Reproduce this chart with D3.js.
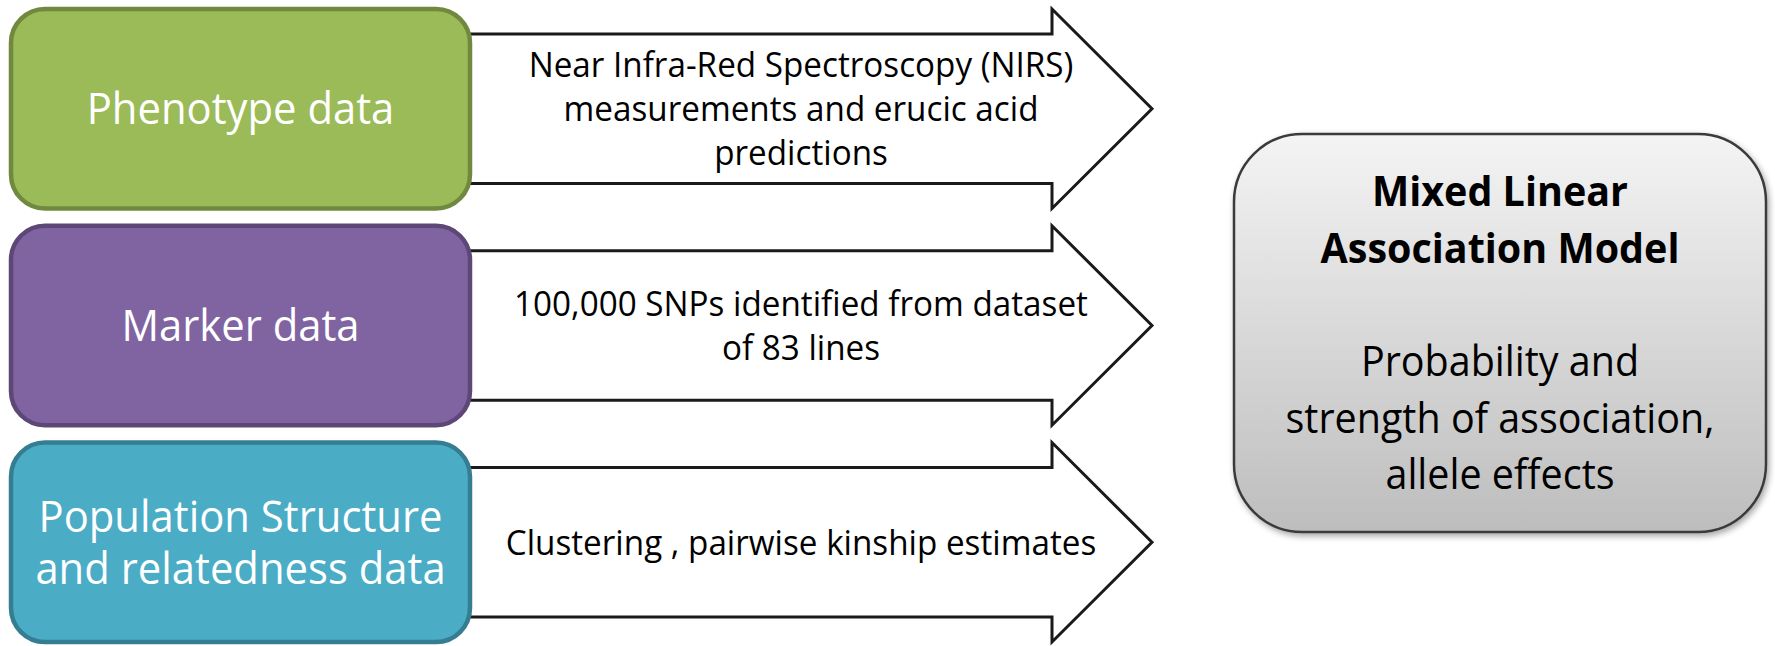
<!DOCTYPE html>
<html>
<head>
<meta charset="utf-8">
<script src="https://cdnjs.cloudflare.com/ajax/libs/d3/7.8.5/d3.min.js"></script>
<style>
  html, body { margin: 0; padding: 0; background: #ffffff; }
  svg { display: block; }
</style>
</head>
<body>
<div id="diagram"></div>
<script>
// data inputs on the left
var sourceLabels = [
  ["Phenotype data"],
  ["Marker data"],
  ["Population Structure", "and relatedness data"]
];
var sourceFill = ["#9bbb59", "#8064a2", "#4bacc6"];
var sourceStroke = ["#71893f", "#5c4776", "#357d91"];

// what goes through each arrow
var arrowTexts = [
  ["Near Infra-Red Spectroscopy (NIRS)", "measurements and erucic acid", "predictions"],
  ["100,000 SNPs identified from dataset", "of 83 lines"],
  ["Clustering , pairwise kinship estimates"]
];

// the model box on the right
var modelTitle = ["Mixed Linear", "Association Model"];
var modelBody = ["Probability and", "strength of association,", "allele effects"];

var width = 1775, height = 646;
var fontFam = "'Open Sans', 'Noto Sans', sans-serif";

var svg = d3.select("#diagram")
  .append("svg")
  .attr("width", width)
  .attr("height", height);

var defs = svg.append("defs");

var grad = defs.append("linearGradient")
  .attr("id", "greyGrad")
  .attr("x1", 0).attr("y1", 0).attr("x2", 0).attr("y2", 1);
grad.append("stop").attr("offset", "0%").attr("stop-color", "#f4f4f4");
grad.append("stop").attr("offset", "100%").attr("stop-color", "#bdbdbd");

var shadow = defs.append("filter")
  .attr("id", "shadow")
  .attr("x", "-10%").attr("y", "-10%")
  .attr("width", "130%").attr("height", "130%");
shadow.append("feDropShadow")
  .attr("dx", 2).attr("dy", 3)
  .attr("stdDeviation", 3)
  .attr("flood-color", "#000")
  .attr("flood-opacity", 0.35);

// rows for the three inputs
var yRow = d3.scaleBand()
  .domain(d3.range(sourceLabels.length))
  .range([9, 642])
  .paddingInner(0.08);

var boxLeft = 11, boxRight = 470;
var shaftStart = 440, headBase = 1052, tip = 1152;
var shaftInset = 25;
var textMidX = 801;

// stacked, centred lines of text; Open Sans is wider than the original font so squeeze it a bit
function textBlock(sel, lines, cx, cy, step, size, squeeze, colour, weightFn) {
  var g = sel.append("g")
    .attr("transform", "translate(" + cx + "," + cy + ") scale(" + squeeze + ",1)");
  g.selectAll("text")
    .data(lines)
    .enter()
    .append("text")
    .attr("x", 0)
    .attr("y", function (d, j) { return (j - (lines.length - 1) / 2) * step; })
    .attr("dy", "0.35em")
    .attr("text-anchor", "middle")
    .style("font-family", fontFam)
    .style("font-size", size + "px")
    .style("font-weight", function (d, j) { return weightFn ? weightFn(d, j) : "normal"; })
    .style("fill", colour)
    .text(function (d) { return typeof d === "string" ? d : d.t; });
}

// arrows first, boxes are laid over their tails
var arrows = svg.selectAll(".arrow")
  .data(arrowTexts)
  .enter()
  .append("g")
  .attr("class", "arrow");

arrows.append("path")
  .attr("d", function (d, i) {
    var y0 = yRow(i), h = yRow.bandwidth();
    return d3.line()([
      [shaftStart, y0 + shaftInset],
      [headBase, y0 + shaftInset],
      [headBase, y0],
      [tip, y0 + h / 2],
      [headBase, y0 + h],
      [headBase, y0 + h - shaftInset],
      [shaftStart, y0 + h - shaftInset]
    ]) + "Z";
  })
  .style("fill", "#ffffff")
  .style("stroke", "#1a1a1a")
  .style("stroke-width", 3)
  .style("stroke-linejoin", "miter");

arrows.each(function (lines, i) {
  textBlock(d3.select(this), lines, textMidX, yRow(i) + yRow.bandwidth() / 2, 44, 35, 0.95, "#000000");
});

// coloured input boxes
var boxes = svg.selectAll(".source")
  .data(sourceLabels)
  .enter()
  .append("g")
  .attr("class", "source");

boxes.append("rect")
  .attr("x", boxLeft)
  .attr("y", function (d, i) { return yRow(i); })
  .attr("width", boxRight - boxLeft)
  .attr("height", yRow.bandwidth())
  .attr("rx", 34)
  .attr("ry", 34)
  .style("fill", function (d, i) { return sourceFill[i]; })
  .style("stroke", function (d, i) { return sourceStroke[i]; })
  .style("stroke-width", 4.5);

boxes.each(function (lines, i) {
  textBlock(d3.select(this), lines, (boxLeft + boxRight) / 2, yRow(i) + yRow.bandwidth() / 2, 52, 44, 0.95, "#ffffff");
});

// model box
var mX = 1234, mY = 134, mW = 532, mH = 398;
svg.append("rect")
  .attr("x", mX).attr("y", mY)
  .attr("width", mW).attr("height", mH)
  .attr("rx", 68).attr("ry", 68)
  .style("fill", "url(#greyGrad)")
  .style("stroke", "#3a3a3a")
  .style("stroke-width", 2.5)
  .attr("filter", "url(#shadow)");

var modelLines = modelTitle.map(function (t) { return { t: t, bold: true }; })
  .concat([{ t: "", bold: false }])
  .concat(modelBody.map(function (t) { return { t: t, bold: false }; }));

textBlock(svg, modelLines, mX + mW / 2, mY + mH / 2, 56.6, 42, 0.94, "#000000",
  function (d) { return d.bold ? "bold" : "normal"; });
</script>
</body>
</html>
